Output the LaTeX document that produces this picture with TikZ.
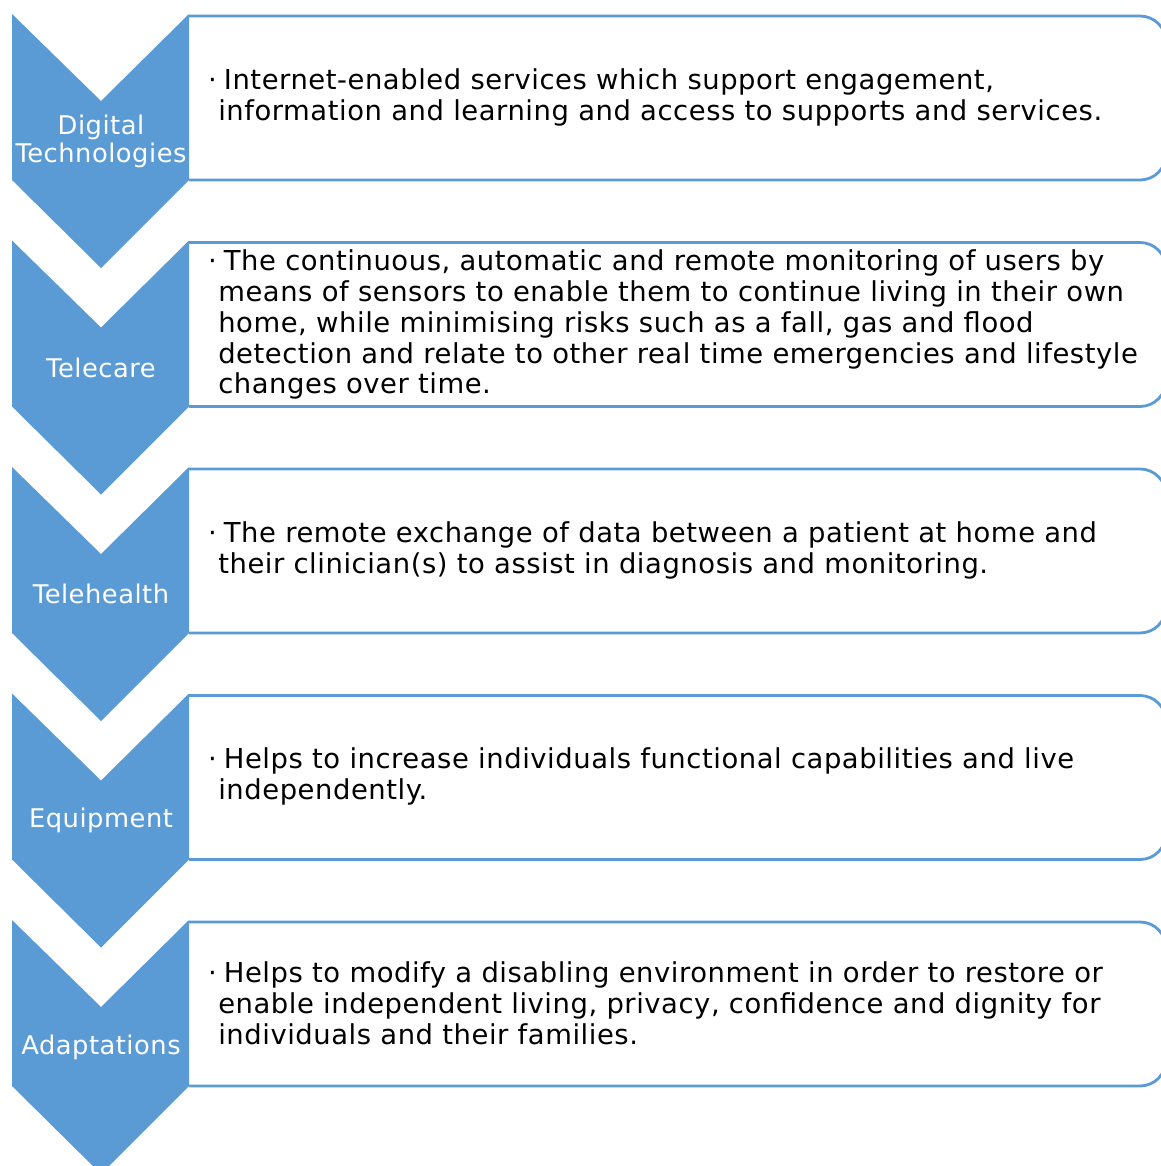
\documentclass[tikz,border=0pt]{standalone}
\usepackage{fontspec}
\setmainfont[LetterSpace=2]{DejaVu Sans}
\usetikzlibrary{positioning}
\definecolor{chevblue}{RGB}{91,155,213}
\tikzset{chevron/.style={fill=chevblue, draw=none}}
\tikzset{itembox/.style={draw=chevblue, line width=2pt, rounded corners=18.5pt}}
\tikzset{chevtext/.style={text=white, align=center, inner sep=0pt, font=\fontsize{18.3}{20}\selectfont}}
\tikzset{itemtext/.style={anchor=west, align=left, inner sep=0pt, font=\fontsize{19.5}{22}\selectfont}}
\newcommand{\itembullet}{\llap{\textperiodcentered\hspace{1pt}}\hspace{4pt}}

\begin{document}
\begin{tikzpicture}[x=0.025cm, y=-0.025cm]
		\useasboundingbox (0,0) rectangle (1161,1166);
		\clip (0,0) rectangle (1161,1166);

		% boxes and chevrons
		\foreach \t in {14,240.5,467,693.5,920} {
			\draw[itembox] (189,\t+2) -- (1166,\t+2) -- (1166,\t+166) -- (189,\t+166);
			\fill[chevron] (12,\t) -- (101,\t+87) -- (189,\t) -- (189,\t+166)
				-- (101,\t+254) -- (12,\t+166) -- cycle;
		}

		\begin{scope}[every node/.append style={chevtext}]
			\node (digital) at (101,141) {Digital\\Technologies};
			\node (telecare) at (101,367.5) {Telecare};
			\node (telehealth) at (101,594) {Telehealth};
			\node (equipment) at (101,820.5) {Equipment};
			\node (adaptations) at (101,1047) {Adaptations};
		\end{scope}

		\begin{scope}[every node/.append style={itemtext}]
			\node (digitaltext) at (218,97) {\itembullet Internet-enabled services which support engagement,\\
				information and learning and access to supports and services.};
			\node (telecaretext) at (218,324.5) {\itembullet The continuous, automatic and remote monitoring of users by\\
				means of sensors to enable them to continue living in their own\\
				home, while minimising risks such as a fall, gas and flood\\
				detection and relate to other real time emergencies and lifestyle\\
				changes over time.};
			\node (telehealthtext) at (218,550) {\itembullet The remote exchange of data between a patient at home and\\
				their clinician(s) to assist in diagnosis and monitoring.};
			\node (equipmenttext) at (218,776.5) {\itembullet Helps to increase individuals functional capabilities and live\\
				independently.};
			\node (adaptationstext) at (218,1003) {\itembullet Helps to modify a disabling environment in order to restore or\\
				enable independent living, privacy, confidence and dignity for\\
				individuals and their families.};
		\end{scope}
	\end{tikzpicture}
\end{document}
